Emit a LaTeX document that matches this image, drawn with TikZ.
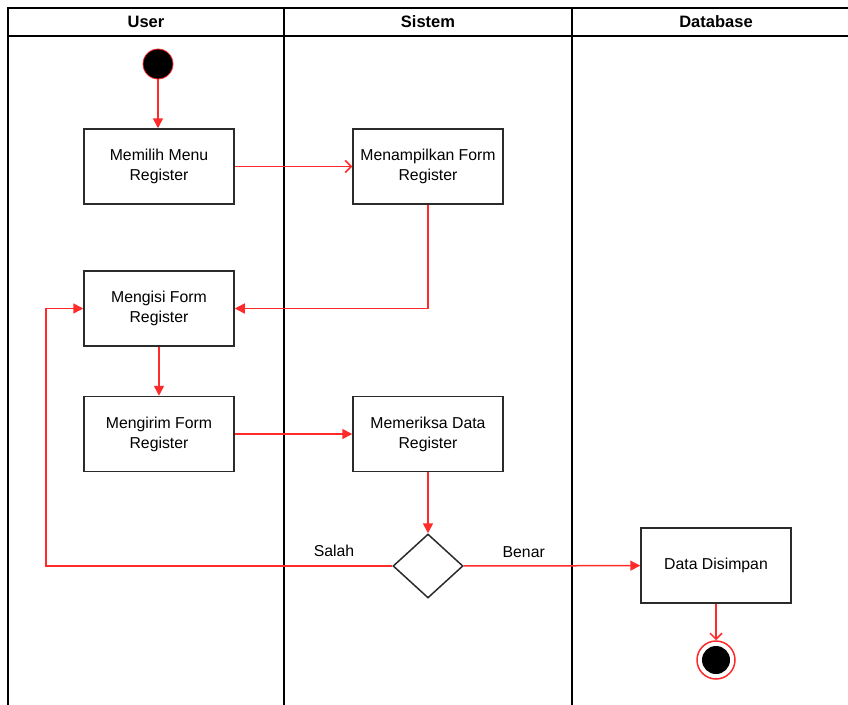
\documentclass[tikz,border=0pt]{standalone}
\usepackage{fontspec}
\setmainfont{Liberation Sans}
\usetikzlibrary{shapes.geometric,arrows.meta}
\definecolor{flow}{HTML}{FF2A2A}
\definecolor{edge}{HTML}{2B2B2B}
\tikzset{
  actbox/.style={draw=edge, line width=1.5pt, minimum width=150pt, minimum height=75pt, align=center, font=\fontsize{15.8}{20}\selectfont, inner sep=0pt},
  choice/.style={draw=edge, line width=1.5pt, diamond, minimum width=70pt, minimum height=64pt, inner sep=0pt, aspect=1.1},
  lane/.style={draw=black, line width=1.5pt},
  flowline/.style={draw=flow, line width=1.5pt, -{Triangle[length=10pt,width=10pt]}},
  openflow/.style={draw=flow, line width=1.5pt, -{Straight Barb[length=6pt,width=12pt]}},
  lanetitle/.style={font=\fontsize{16.5}{18}\selectfont\bfseries},
  guard/.style={font=\fontsize{15.8}{18}\selectfont}
}
\begin{document}
\begin{tikzpicture}[x=1pt,y=-1pt]
\useasboundingbox (0,0) rectangle (848,704);
% swimlanes
\draw[lane] (8,712) -- (8,8) -- (860,8);
\draw[lane] (8,36) -- (860,36);
\draw[lane] (284,8) -- (284,712);
\draw[lane] (572,8) -- (572,712);
\node[lanetitle] (hUser) at (146,22) {User};
\node[lanetitle] (hSis) at (428,22) {Sistem};
\node[lanetitle] (hDb) at (716,22) {Database};
% nodes
\node[circle, fill=black, draw=flow, line width=0.8pt, minimum size=30pt, inner sep=0pt] (start) at (158,64) {};
\node[actbox] (memilih) at (159,166.5) {Memilih Menu\\Register};
\node[actbox] (menampilkan) at (428,166.5) {Menampilkan Form\\Register};
\node[actbox] (mengisi) at (159,308.5) {Mengisi Form\\Register};
\node[actbox] (mengirim) at (159,434) {Mengirim Form\\Register};
\node[actbox] (memeriksa) at (428,434) {Memeriksa Data\\Register};
\node[choice] (dec) at (428,566) {};
\node[actbox] (simpan) at (716,565.5) {Data Disimpan};
\node[circle, draw=flow, line width=1.5pt, minimum size=38pt, inner sep=0pt] (end) at (716,660) {};
\node[circle, fill=black, minimum size=28pt, inner sep=0pt] (endin) at (716,660) {};
\coordinate (loopA) at (46,566);
\coordinate (loopB) at (46,308.5);
% connectors
\draw[flowline] (start) -- (start |- memilih.north);
\draw[openflow] (memilih) -- (menampilkan);
\draw[flowline] (menampilkan.south) |- (mengisi.east);
\draw[flowline] (mengisi) -- (mengirim);
\draw[flowline] (mengirim) -- (memeriksa);
\draw[flowline] (memeriksa) -- (dec);
\draw[flowline] (dec) -- node[guard, pos=0.34, above=4pt] (benar) {Benar} (simpan);
\draw[flowline] (dec.west) -- (loopA) -- (loopB) -- (mengisi.west);
\node[guard] (salah) at (334,551) {Salah};
\draw[openflow] (simpan) -- (end);
\end{tikzpicture}
\end{document}
